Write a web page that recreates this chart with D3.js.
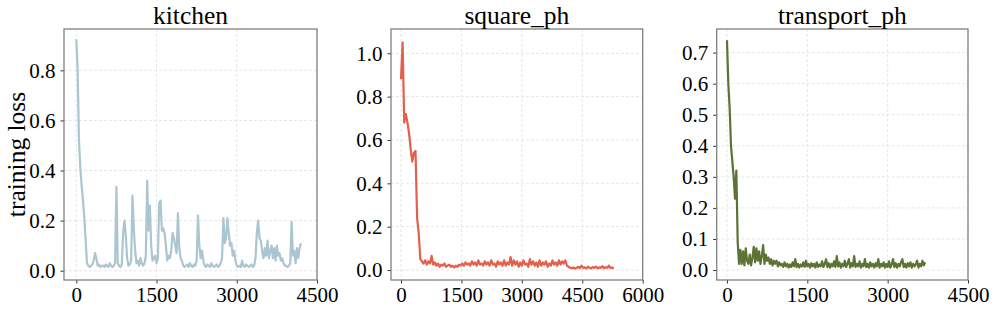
<!DOCTYPE html>
<html>
<head>
<meta charset="utf-8">
<script src="https://cdn.jsdelivr.net/npm/d3@7"></script>
<style>
  body { margin: 0; background: #fff; }
  svg { display: block; }
  text { font-family: "Liberation Serif", "Times New Roman", serif; }
</style>
</head>
<body>
<svg width="997" height="312"></svg>
<script>
// loss values, one value every N training steps
var kitchenEvery = 25;
var kitchenLoss = [
  0.924, 0.80, 0.52, 0.41, 0.34, 0.28, 0.21, 0.12, 0.03, 0.02,
  0.015, 0.02, 0.025, 0.04, 0.07, 0.05, 0.02, 0.025, 0.015, 0.02,
  0.02, 0.015, 0.025, 0.02, 0.015, 0.03, 0.02, 0.015, 0.02, 0.03,
  0.335, 0.03, 0.02, 0.015, 0.025, 0.15, 0.20, 0.14, 0.05, 0.02,
  0.025, 0.04, 0.30, 0.17, 0.08, 0.03, 0.04, 0.02, 0.05, 0.03,
  0.02, 0.03, 0.06, 0.36, 0.16, 0.26, 0.10, 0.04, 0.05, 0.06,
  0.03, 0.05, 0.27, 0.28, 0.16, 0.17, 0.15, 0.10, 0.04, 0.06,
  0.05, 0.08, 0.15, 0.13, 0.10, 0.07, 0.23, 0.09, 0.05, 0.04,
  0.02, 0.015, 0.02, 0.025, 0.015, 0.03, 0.02, 0.015, 0.025, 0.02,
  0.04, 0.22, 0.10, 0.05, 0.08, 0.04, 0.02, 0.015, 0.025, 0.02,
  0.015, 0.03, 0.02, 0.015, 0.02, 0.025, 0.015, 0.02, 0.03, 0.05,
  0.21, 0.11, 0.13, 0.21, 0.15, 0.10, 0.11, 0.06, 0.08, 0.04,
  0.02, 0.015, 0.02, 0.015, 0.04, 0.02, 0.015, 0.025, 0.02, 0.015,
  0.02, 0.025, 0.015, 0.02, 0.05, 0.15, 0.20, 0.13, 0.12, 0.08,
  0.05, 0.09, 0.06, 0.12, 0.05, 0.08, 0.10, 0.05, 0.09, 0.04,
  0.10, 0.06, 0.07, 0.04, 0.05, 0.03, 0.02, 0.02, 0.015, 0.02,
  0.03, 0.195, 0.06, 0.08, 0.03, 0.09, 0.05, 0.09, 0.11
];

var squareEvery = 40;
var squareLoss = [
  0.88, 1.05, 0.68, 0.72, 0.68, 0.63, 0.56, 0.50, 0.54, 0.55,
  0.24, 0.17, 0.05, 0.04, 0.03, 0.045, 0.025, 0.04, 0.03, 0.065,
  0.025, 0.035, 0.02, 0.03, 0.015, 0.025, 0.02, 0.03, 0.015, 0.02,
  0.025, 0.015, 0.02, 0.012, 0.02, 0.015, 0.025, 0.02, 0.03, 0.02,
  0.035, 0.025, 0.03, 0.02, 0.04, 0.025, 0.035, 0.02, 0.045, 0.025,
  0.03, 0.02, 0.04, 0.025, 0.035, 0.02, 0.045, 0.025, 0.03, 0.015,
  0.04, 0.025, 0.035, 0.02, 0.045, 0.02, 0.035, 0.025, 0.06, 0.02,
  0.045, 0.025, 0.04, 0.015, 0.035, 0.02, 0.045, 0.025, 0.03, 0.015,
  0.05, 0.025, 0.04, 0.02, 0.035, 0.015, 0.045, 0.02, 0.035, 0.025,
  0.04, 0.015, 0.03, 0.02, 0.045, 0.025, 0.035, 0.02, 0.045, 0.025,
  0.04, 0.03, 0.045, 0.02, 0.015, 0.01, 0.008, 0.012, 0.006, 0.01,
  0.015, 0.008, 0.02, 0.01, 0.012, 0.007, 0.015, 0.01, 0.008, 0.014,
  0.01, 0.016, 0.008, 0.012, 0.01, 0.018, 0.008, 0.014, 0.01, 0.02,
  0.009, 0.012, 0.006
];

var transportEvery = 25;
var transportLoss = [
  0.74, 0.60, 0.52, 0.40, 0.35, 0.30, 0.23, 0.32, 0.09, 0.02,
  0.065, 0.02, 0.06, 0.015, 0.07, 0.03, 0.02, 0.05, 0.015, 0.04,
  0.075, 0.025, 0.07, 0.03, 0.06, 0.02, 0.045, 0.08, 0.02, 0.05,
  0.03, 0.04, 0.02, 0.035, 0.015, 0.03, 0.02, 0.03, 0.012, 0.025,
  0.015, 0.02, 0.01, 0.025, 0.012, 0.02, 0.008, 0.018, 0.01, 0.025,
  0.012, 0.035, 0.01, 0.02, 0.008, 0.018, 0.012, 0.025, 0.01, 0.03,
  0.012, 0.02, 0.008, 0.022, 0.012, 0.02, 0.008, 0.025, 0.01, 0.018,
  0.012, 0.028, 0.01, 0.02, 0.035, 0.01, 0.022, 0.008, 0.02, 0.012,
  0.028, 0.01, 0.045, 0.012, 0.025, 0.008, 0.02, 0.012, 0.03, 0.01,
  0.02, 0.035, 0.008, 0.022, 0.012, 0.045, 0.01, 0.02, 0.012, 0.028,
  0.008, 0.02, 0.012, 0.035, 0.01, 0.02, 0.008, 0.025, 0.012, 0.02,
  0.008, 0.022, 0.012, 0.035, 0.008, 0.02, 0.012, 0.025, 0.008, 0.02,
  0.01, 0.028, 0.008, 0.018, 0.035, 0.01, 0.022, 0.008, 0.02, 0.012,
  0.025, 0.035, 0.01, 0.02, 0.008, 0.022, 0.012, 0.025, 0.008, 0.02,
  0.012, 0.018, 0.03, 0.008, 0.02, 0.012, 0.03, 0.015, 0.025
];

// tick labels for each panel
var kitchenXTicks = [0, 1500, 3000, 4500];
var kitchenYTicks = [0, 0.2, 0.4, 0.6, 0.8];
var squareXTicks = [0, 1500, 3000, 4500, 6000];
var squareYTicks = [0, 0.2, 0.4, 0.6, 0.8, 1.0];
var transportXTicks = [0, 1500, 3000, 4500];
var transportYTicks = [0, 0.1, 0.2, 0.3, 0.4, 0.5, 0.6, 0.7];

var svg = d3.select("svg");
var yFmt = d3.format(".1f"),
    xFmt = d3.format("d");

function drawPanel(p) {
    // scales for this little box
    var x = d3.scaleLinear().domain(p.xDomain).range([p.left, p.right]);
    var y = d3.scaleLinear().domain(p.yDomain).range([p.bottom, p.top]);

    var g = svg.append("g");

    // dashed grid first, so the line sits on top
    g.selectAll(".vgrid")
        .data(p.xTicks)
        .enter().append("line")
        .attr("x1", function(d) { return x(d); })
        .attr("x2", function(d) { return x(d); })
        .attr("y1", p.top).attr("y2", p.bottom)
        .attr("stroke", "#e0e0e0")
        .attr("stroke-width", 0.8)
        .attr("stroke-dasharray", "3,2");
    g.selectAll(".hgrid")
        .data(p.yTicks)
        .enter().append("line")
        .attr("x1", p.left).attr("x2", p.right)
        .attr("y1", function(d) { return y(d); })
        .attr("y2", function(d) { return y(d); })
        .attr("stroke", "#e0e0e0")
        .attr("stroke-width", 0.8)
        .attr("stroke-dasharray", "3,2");

    var line = d3.line()
        .x(function(d, i) { return x(i * p.every); })
        .y(function(d) { return y(d); });

    g.append("path")
        .datum(p.values)
        .attr("fill", "none")
        .attr("stroke", p.color)
        .attr("stroke-width", 2.2)
        .attr("stroke-linejoin", "round")
        .attr("d", line);

    // axes, the domain path is replaced by the box below
    var xAxis = g.append("g")
        .attr("transform", "translate(0," + p.bottom + ")")
        .call(d3.axisBottom(x).tickValues(p.xTicks).tickFormat(xFmt).tickSize(3.5).tickPadding(3.6));
    var yAxis = g.append("g")
        .attr("transform", "translate(" + p.left + ",0)")
        .call(d3.axisLeft(y).tickValues(p.yTicks).tickFormat(yFmt).tickSize(3.5).tickPadding(5));

    [xAxis, yAxis].forEach(function(a) {
        a.select(".domain").remove();
        a.selectAll(".tick line").attr("stroke", "#333").attr("stroke-width", 1);
        a.selectAll("text")
            .attr("fill", "#000")
            .style("font-family", "'Liberation Serif', 'Times New Roman', serif")
            .style("font-size", "21px");
    });

    g.append("rect")
        .attr("x", p.left).attr("y", p.top)
        .attr("width", p.right - p.left)
        .attr("height", p.bottom - p.top)
        .attr("fill", "none")
        .attr("stroke", "#808080")
        .attr("stroke-width", 1.3);

    g.append("text")
        .attr("x", (p.left + p.right) / 2)
        .attr("y", 23.5)
        .attr("text-anchor", "middle")
        .style("font-size", "25.5px")
        .text(p.title);
}

drawPanel({
    title: "kitchen", values: kitchenLoss, every: kitchenEvery, color: "#abc6d0",
    left: 64, right: 317, top: 29, bottom: 280,
    xDomain: [-230, 4500], yDomain: [-0.037, 0.965],
    xTicks: kitchenXTicks, yTicks: kitchenYTicks
});
drawPanel({
    title: "square_ph", values: squareLoss, every: squareEvery, color: "#e2604c",
    left: 391, right: 642.7, top: 29, bottom: 280,
    xDomain: [-248, 6000], yDomain: [-0.046, 1.112],
    xTicks: squareXTicks, yTicks: squareYTicks
});
drawPanel({
    title: "transport_ph", values: transportLoss, every: transportEvery, color: "#5c7334",
    left: 716.7, right: 968, top: 29, bottom: 280,
    xDomain: [-192, 4500], yDomain: [-0.032, 0.776],
    xTicks: transportXTicks, yTicks: transportYTicks
});

// shared y label on the first panel
svg.append("text")
    .attr("transform", "translate(25,154.5) rotate(-90)")
    .attr("text-anchor", "middle")
    .style("font-size", "25.5px")
    .text("training loss");
</script>
</body>
</html>
